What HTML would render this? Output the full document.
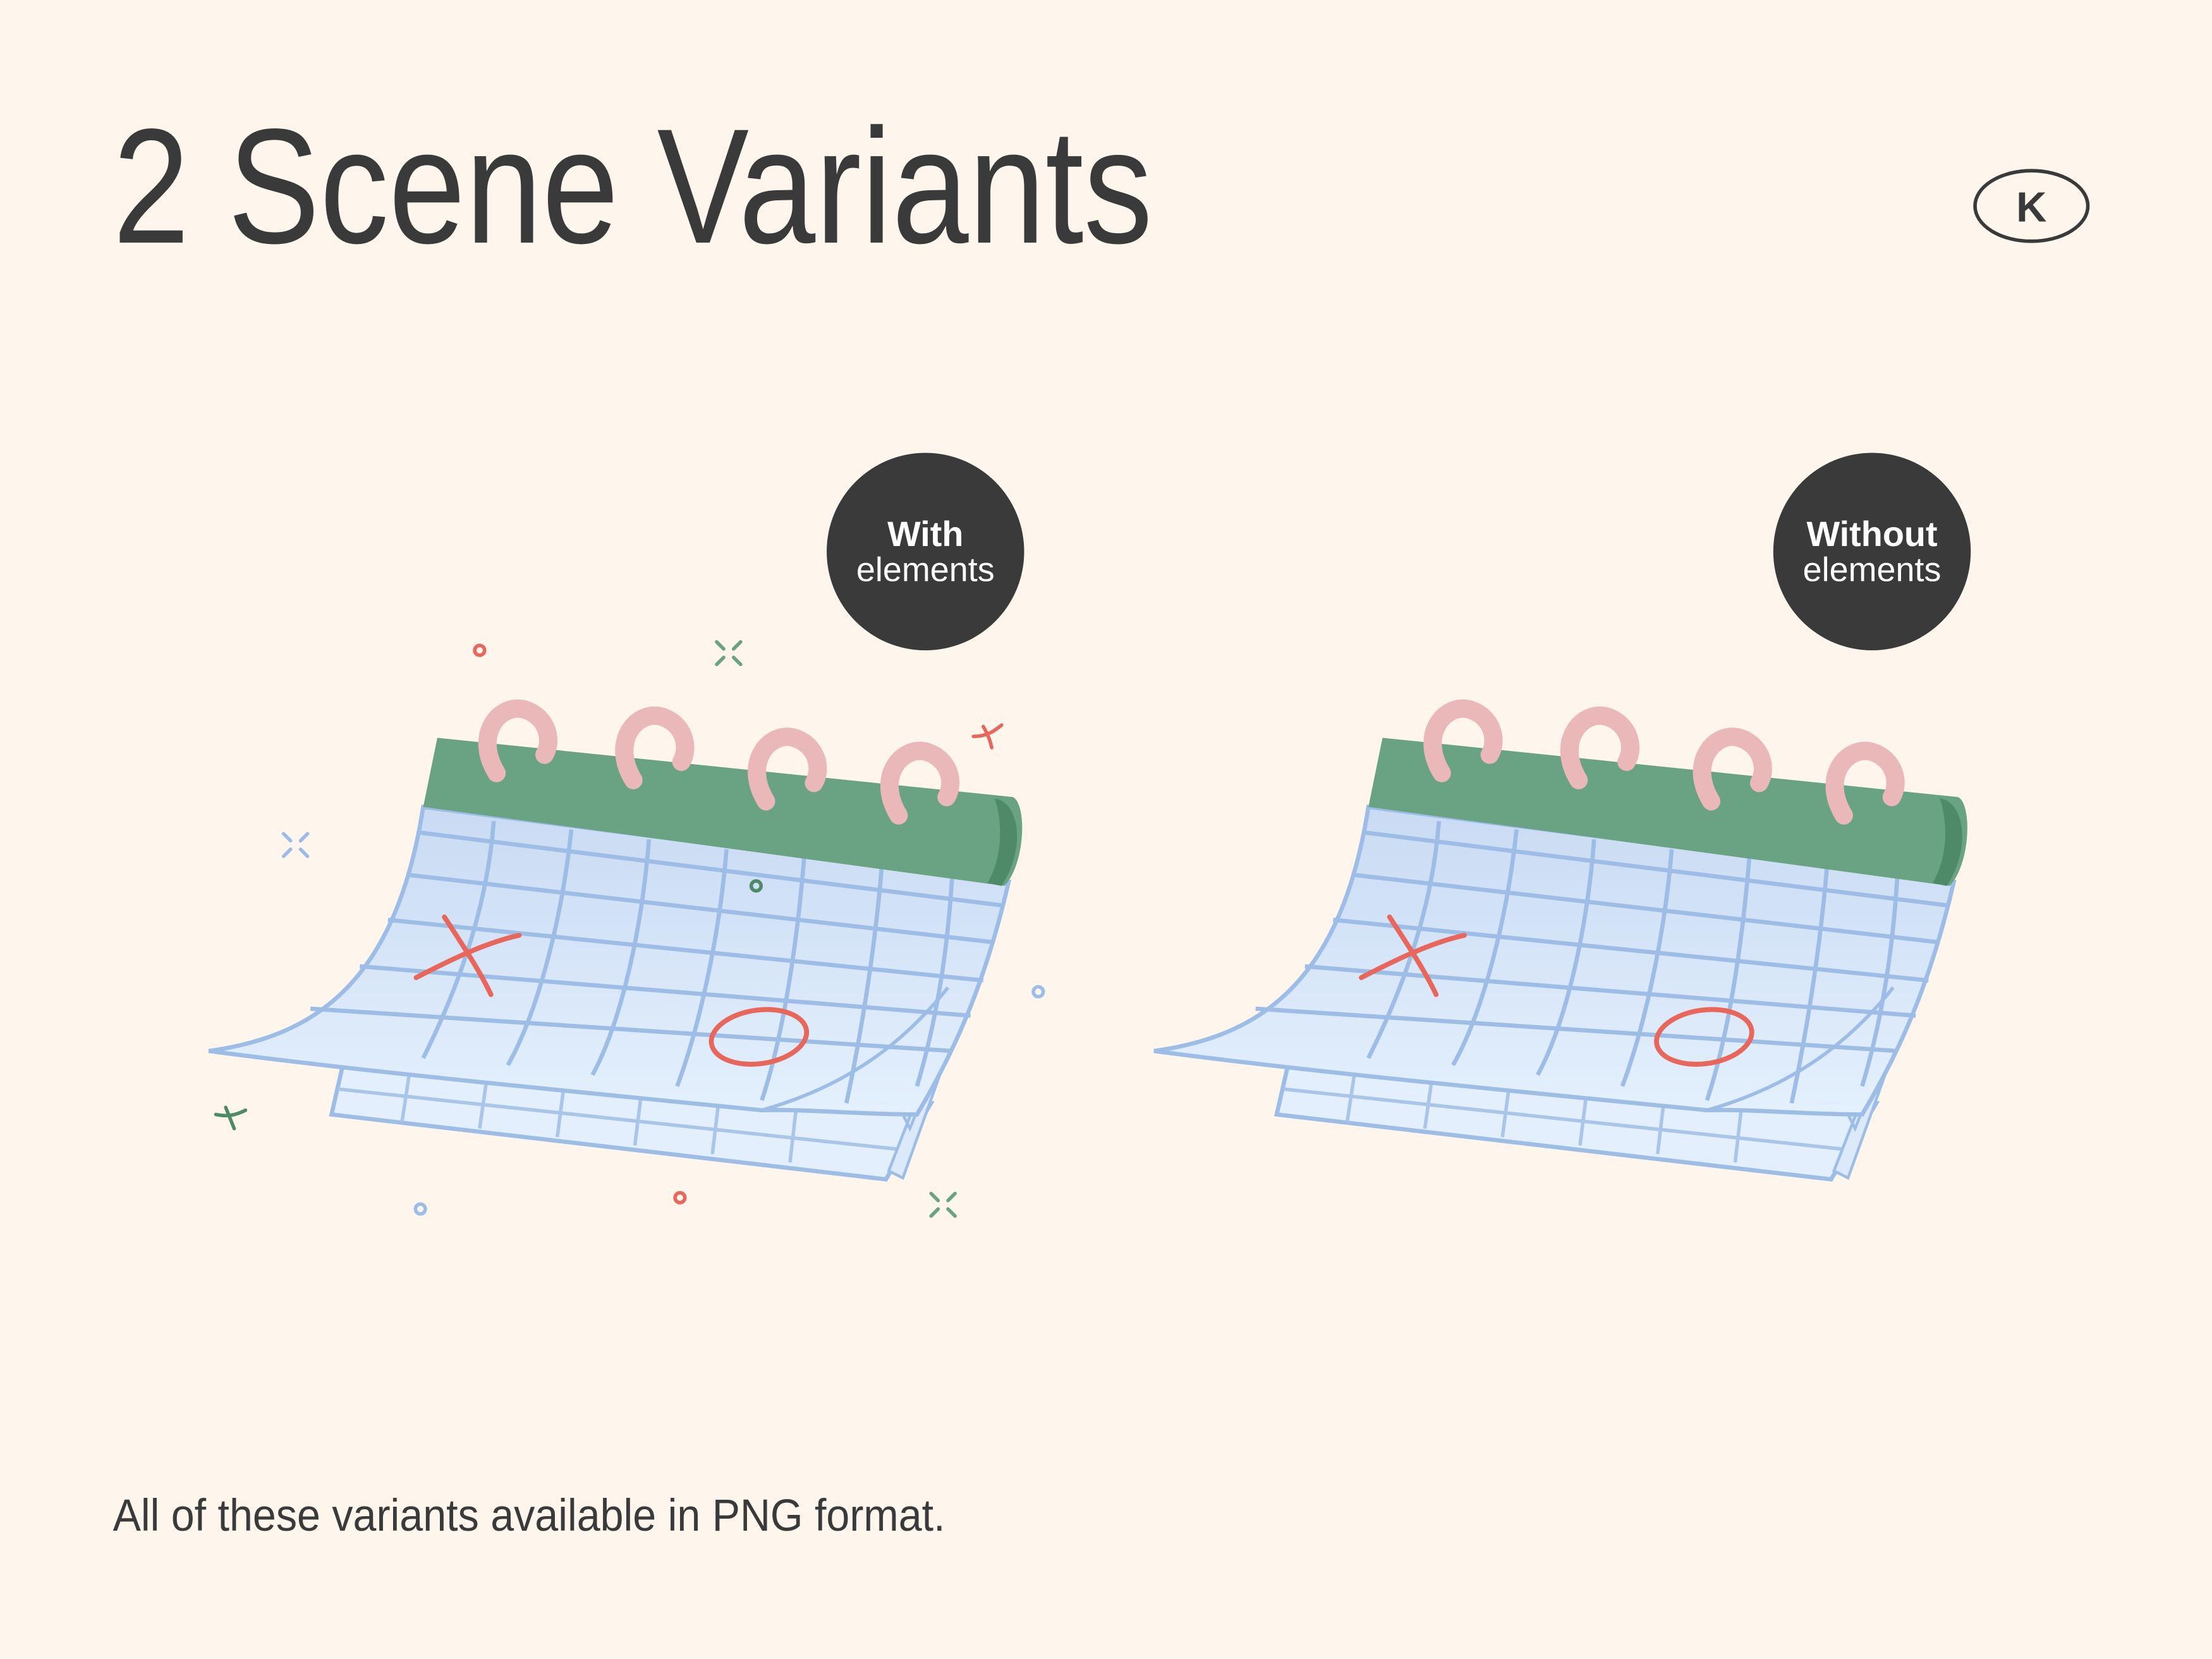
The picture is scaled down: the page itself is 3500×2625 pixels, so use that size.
<!DOCTYPE html>
<html><head><meta charset="utf-8"><style>
html,body{margin:0;padding:0;background:#fef6ec;}
svg{display:block}
</style></head><body>
<svg width="3500" height="2625" viewBox="0 0 1568 1176" xmlns="http://www.w3.org/2000/svg">
<defs>
<linearGradient id="sg" x1="0" y1="0" x2="0" y2="1">
<stop offset="0" stop-color="#c9dbf3"/><stop offset="1" stop-color="#e4f0fd"/>
</linearGradient>
<g id="cal">
<!-- back pages -->
<path d="M243,755 L660,782 L628,836 L235,790 Z" fill="#e3effc" stroke="#9dbde6" stroke-width="3"/>
<g stroke="#a9c6ea" stroke-width="2.5">
<line x1="290" y1="762" x2="285" y2="795"/><line x1="345" y1="765" x2="340" y2="800"/>
<line x1="400" y1="768" x2="395" y2="806"/><line x1="455" y1="772" x2="450" y2="812"/>
<line x1="510" y1="776" x2="505" y2="818"/><line x1="565" y1="780" x2="560" y2="824"/>
<line x1="240" y1="772" x2="640" y2="815"/>
</g>
<path d="M640,790 L700,640 L705,650 L645,800 Z M630,830 L700,650 L710,640 L640,835 Z" fill="#dbe9fa" stroke="#9dbde6" stroke-width="2"/>
<!-- main sheet -->
<path d="M300,572 L715,625 C700,690 680,740 650,790 C610,790 570,786 540,787 C420,775 260,760 148,745 C220,735 280,700 300,572 Z" fill="url(#sg)" stroke="#9dbde6" stroke-width="3"/>
<path d="M540,787 C600,770 640,740 672,700" fill="none" stroke="#9dbde6" stroke-width="2.5"/>
<g stroke="#9dbde6" stroke-width="3" fill="none">
<path d="M296,590 L712,642"/><path d="M288,620 L705,668"/><path d="M275,652 L697,695"/>
<path d="M255,685 L688,720"/><path d="M220,715 L675,745"/>
<path d="M350,582 C345,650 320,710 300,750"/><path d="M405,588 C398,655 380,720 360,755"/>
<path d="M460,595 C455,660 440,725 420,762"/><path d="M515,602 C510,665 495,730 480,770"/>
<path d="M570,608 C565,670 555,735 540,780"/><path d="M625,615 C620,675 610,735 600,782"/>
<path d="M675,620 C672,670 665,720 650,770"/>
</g>
<!-- marks -->
<g stroke="#e8675c" stroke-width="3.5" fill="none" stroke-linecap="round">
<path d="M315,650 C328,670 340,688 348,705"/><path d="M295,693 C320,680 345,668 368,663"/>
<ellipse cx="538" cy="735" rx="34" ry="19" transform="rotate(-8 538 735)"/>
</g>
<!-- binder -->
<path d="M310,523 L718,565 C728,570 727,612 712,628 L300,572 Z" fill="#6aa383"/>
<path d="M705,566 C722,568 728,600 710,628 L700,626 C712,605 710,580 705,566 Z" fill="#4f8a68"/>
<!-- rings -->
<g stroke="#eab8b8" stroke-width="13" fill="none" stroke-linecap="round">
<path d="M352,548 C335,520 355,498 372,503 C388,508 392,525 386,535"/>
<path d="M449,553 C432,525 452,503 469,508 C485,513 489,530 483,540"/>
<path d="M543,568 C526,540 546,518 563,523 C579,528 583,545 577,555"/>
<path d="M637,578 C620,550 640,528 657,533 C673,538 677,555 671,565"/>
</g>
</g>
</defs>

<text x="80" y="172" font-family="Liberation Sans, sans-serif" font-size="116" fill="#3a3a3a" textLength="737" lengthAdjust="spacingAndGlyphs">2 Scene Variants</text>
<ellipse cx="1440" cy="146" rx="40" ry="25" fill="none" stroke="#3a3a3a" stroke-width="2.5"/>
<text x="1440" y="157" text-anchor="middle" font-family="Liberation Sans, sans-serif" font-weight="bold" font-size="30" fill="#3a3a3a">K</text>

<circle cx="656" cy="391" r="70" fill="#3a3a3a"/>
<text x="656" y="387" text-anchor="middle" font-family="Liberation Sans, sans-serif" font-weight="bold" font-size="25" fill="#fff">With</text>
<text x="656" y="412" text-anchor="middle" font-family="Liberation Sans, sans-serif" font-size="24" fill="#fff" textLength="98" lengthAdjust="spacingAndGlyphs">elements</text>
<circle cx="1327" cy="391" r="70" fill="#3a3a3a"/>
<text x="1327" y="387" text-anchor="middle" font-family="Liberation Sans, sans-serif" font-weight="bold" font-size="25" fill="#fff">Without</text>
<text x="1327" y="412" text-anchor="middle" font-family="Liberation Sans, sans-serif" font-size="24" fill="#fff" textLength="98" lengthAdjust="spacingAndGlyphs">elements</text>

<use href="#cal"/>
<use href="#cal" transform="translate(670,0)"/>

<!-- decorations -->
<g fill="none" stroke-width="2.5" stroke-linecap="round">
<circle cx="340" cy="461" r="3.5" stroke="#e8675c"/>
<circle cx="536" cy="628" r="3.5" stroke="#4f8a68"/>
<circle cx="736" cy="703" r="3.5" stroke="#9dbde6"/>
<circle cx="298" cy="857" r="3.5" stroke="#9dbde6"/>
<circle cx="482" cy="849" r="3.5" stroke="#e8675c"/>
<g stroke="#6aa383"><path d="M508,455 L513,460 M525,455 L520,460 M508,471 L513,466 M525,471 L520,466"/>
<path d="M660,846 L665,851 M677,846 L672,851 M660,862 L665,857 M677,862 L672,857"/></g>
<g stroke="#9dbde6"><path d="M201,591 L206,596 M218,591 L213,596 M201,607 L206,602 M218,607 L213,602"/></g>
<path d="M690,522 C700,522 705,518 710,514 M697,515 C700,520 702,525 703,530" stroke="#e8675c"/>
<path d="M153,790 C162,792 168,790 174,787 M160,785 C162,790 164,795 166,800" stroke="#4f8a68"/>
</g>

<text x="80" y="1085" font-family="Liberation Sans, sans-serif" font-size="32" fill="#3a3a3a" textLength="590" lengthAdjust="spacingAndGlyphs">All of these variants available in PNG format.</text>
</svg>
</body></html>
